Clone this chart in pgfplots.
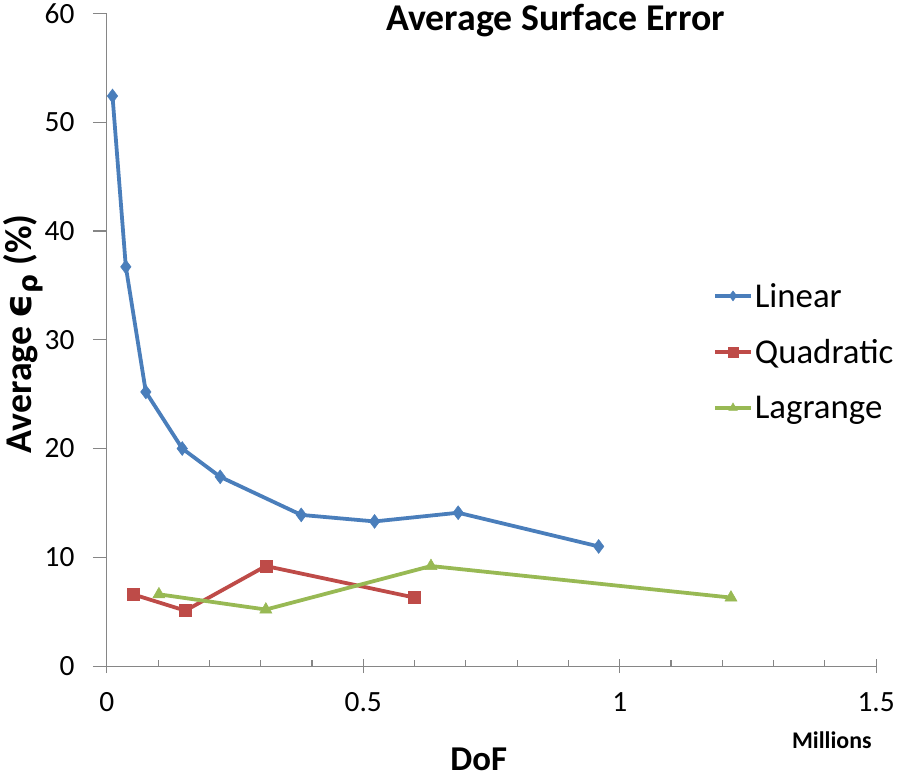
\documentclass[border=0pt]{standalone}
\usepackage{pgfplots}
\pgfplotsset{compat=1.18}
\usepackage{fontspec}
\setmainfont{Carlito}
\newfontfamily\dejavu{DejaVu Sans}
\definecolor{cLin}{HTML}{4A7EBB}
\definecolor{cQuad}{HTML}{BE4B48}
\definecolor{cLag}{HTML}{98B954}
\definecolor{axgray}{HTML}{868686}
\begin{document}
\begin{tikzpicture}
\begin{axis}[
  width=773pt, height=656pt, scale only axis,
  xmin=0, xmax=1.5, ymin=0, ymax=60,
  axis lines=left,
  axis line style={-, axgray, line width=1.2pt},
  xtick={0,0.5,1,1.5}, xticklabels={0,0.5,1,1.5},
  minor x tick num=4,
  ytick={0,10,20,30,40,50,60},
  tick style={axgray, line width=1.2pt},
  xtick align=center, ytick align=outside,
  major tick length=14pt,
  minor x tick style={yshift=3pt},
  minor tick length=6pt,
  /pgf/number format/assume math mode=true,
  ticklabel style={font=\fontsize{29.5}{33}\selectfont, text=black},
  xticklabel style={yshift=-16pt},
  yticklabel style={xshift=-15pt},
  clip=false,
  legend style={draw=none, fill=none, at={(rel axis cs:0.788,0.59)}, anchor=north west,
    font=\fontsize{35}{38}\selectfont, row sep=27pt, inner sep=0pt,
    nodes={inner sep=2pt}},
  legend cell align=left,
  legend image code/.code={\draw[mark repeat=2,mark phase=2,#1,mark size=5pt] plot coordinates {(0pt,0pt)(18pt,0pt)(36pt,0pt)};},
  every axis plot/.append style={line width=3.8pt},
]
\addplot[cLin, mark=diamond*, mark size=7pt, mark options={fill=cLin, line width=0.5pt}] coordinates {
 (0.011,52.4) (0.037,36.7) (0.076,25.2) (0.147,20.0) (0.221,17.4) (0.379,13.9) (0.522,13.3) (0.685,14.1) (0.959,11.0)};
\addlegendentry{Linear}
\addplot[cQuad, mark=square*, mark size=6pt, mark options={fill=cQuad, line width=0.5pt}] coordinates {
 (0.051,6.6) (0.153,5.1) (0.310,9.2) (0.600,6.3)};
\addlegendentry{Quadratic}
\addplot[cLag, mark=triangle*, mark size=7pt, mark options={fill=cLag, line width=0.5pt}] coordinates {
 (0.1015,6.6) (0.310,5.2) (0.632,9.2) (1.217,6.3)};
\addlegendentry{Lagrange}
\node[font=\bfseries\fontsize{38}{42}\selectfont, anchor=base] at (axis cs:0.875,58.4) {Average Surface Error};
\node[font=\bfseries\fontsize{38}{42}\selectfont, rotate=90] at ([xshift=-84pt]rel axis cs:0,0.509) {Average {\dejavu\bfseries ϵ}\textsubscript{\dejavu\bfseries ρ} (\%)};
\node[font=\bfseries\fontsize{35}{38}\selectfont, anchor=base, inner sep=0pt] at ([yshift=-105pt]rel axis cs:0.4835,0) {DoF};
\node[font=\bfseries\fontsize{24}{27}\selectfont] at ([yshift=-74pt]rel axis cs:0.9425,0) {Millions};
\end{axis}
\path ([xshift=-106pt,yshift=-113pt]current axis.south west) rectangle ++(898pt,780pt);
\end{tikzpicture}
\end{document}
